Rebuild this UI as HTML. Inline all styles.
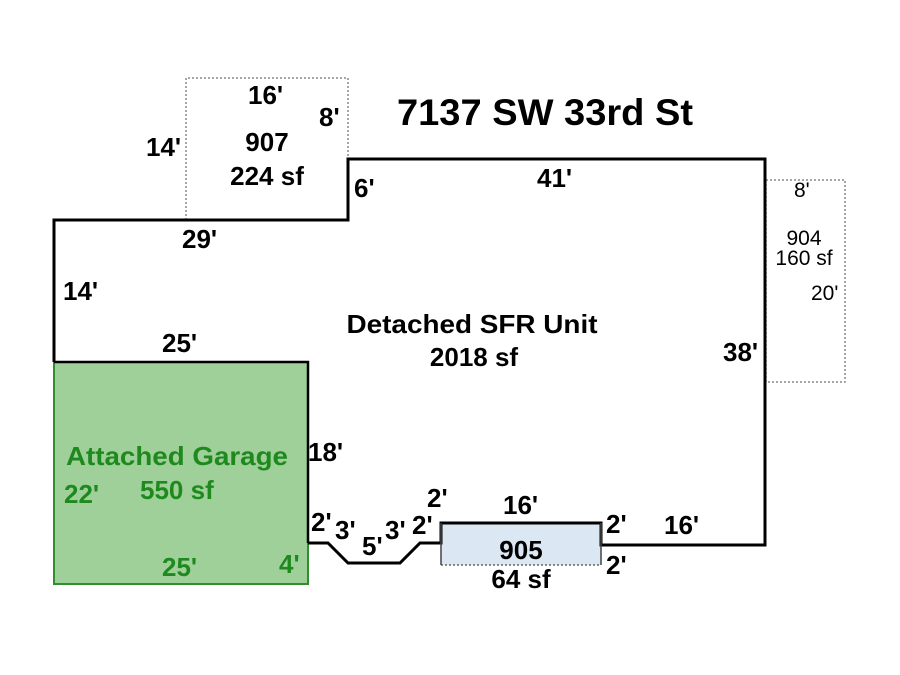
<!DOCTYPE html>
<html><head><style>body{margin:0;background:#fff}svg{display:block}</style></head>
<body>
<svg width="900" height="675" xmlns="http://www.w3.org/2000/svg" font-family="Liberation Sans, Arial, sans-serif">
<rect width="900" height="675" fill="#fff"/>
<path d="M186,220 V78 H348 V159" fill="none" stroke="#888" stroke-width="1.5" stroke-dasharray="2,2"/>
<rect x="766" y="180" width="79" height="202" fill="none" stroke="#888" stroke-width="1.5" stroke-dasharray="2,2"/>
<rect x="54" y="362" width="254" height="222" fill="#a0d09a" stroke="#2e8f2e" stroke-width="2"/>
<rect x="441" y="523" width="160" height="42" fill="#dbe7f3"/>
<path d="M441,565 H601" stroke="#666" stroke-width="1.5" stroke-dasharray="2,2"/>
<path d="M54,362 V220 H348 V159 H765 V545 H601 V523 H441 V543 H420 L400,563 H348 L328,543 H308" fill="none" stroke="#000" stroke-width="3" stroke-linejoin="miter"/>
<path d="M54,362 H308 V543" fill="none" stroke="#000" stroke-width="2.5"/>
<path d="M441,523 V565 M601,523 V565" stroke="#444" stroke-width="1.5"/>
<g font-weight="bold" font-size="26" fill="#000">
<text x="397" y="125" font-size="37" textLength="296" lengthAdjust="spacingAndGlyphs">7137 SW 33rd St</text>
<text x="248" y="104">16'</text>
<text x="319" y="126">8'</text>
<text x="146" y="156">14'</text>
<text x="267" y="151" text-anchor="middle">907</text>
<text x="267" y="185" text-anchor="middle">224 sf</text>
<text x="354" y="197">6'</text>
<text x="537" y="187">41'</text>
<text x="182" y="248">29'</text>
<text x="63" y="300">14'</text>
<text x="162" y="352">25'</text>
<text x="472" y="333" text-anchor="middle" textLength="251" lengthAdjust="spacingAndGlyphs">Detached SFR Unit</text>
<text x="474" y="366" text-anchor="middle">2018 sf</text>
<text x="723" y="361">38'</text>
<text x="308" y="461">18'</text>
<text x="311" y="531">2'</text>
<text x="335" y="539">3'</text>
<text x="362" y="555">5'</text>
<text x="385" y="539">3'</text>
<text x="412" y="534">2'</text>
<text x="427" y="507">2'</text>
<text x="503" y="514">16'</text>
<text x="521" y="559" text-anchor="middle">905</text>
<text x="521" y="588" text-anchor="middle">64 sf</text>
<text x="606" y="533">2'</text>
<text x="606" y="574">2'</text>
<text x="664" y="534">16'</text>
</g>
<g font-weight="bold" font-size="26" fill="#1e8a1e">
<text x="66" y="465" textLength="222" lengthAdjust="spacingAndGlyphs">Attached Garage</text>
<text x="64" y="503">22'</text>
<text x="140" y="499">550 sf</text>
<text x="162" y="576">25'</text>
<text x="279" y="573">4'</text>
</g>
<g font-size="21" fill="#000">
<text x="794" y="197">8'</text>
<text x="804" y="245" text-anchor="middle">904</text>
<text x="804" y="265" text-anchor="middle">160 sf</text>
<text x="811" y="300">20'</text>
</g>
</svg>
</body></html>
